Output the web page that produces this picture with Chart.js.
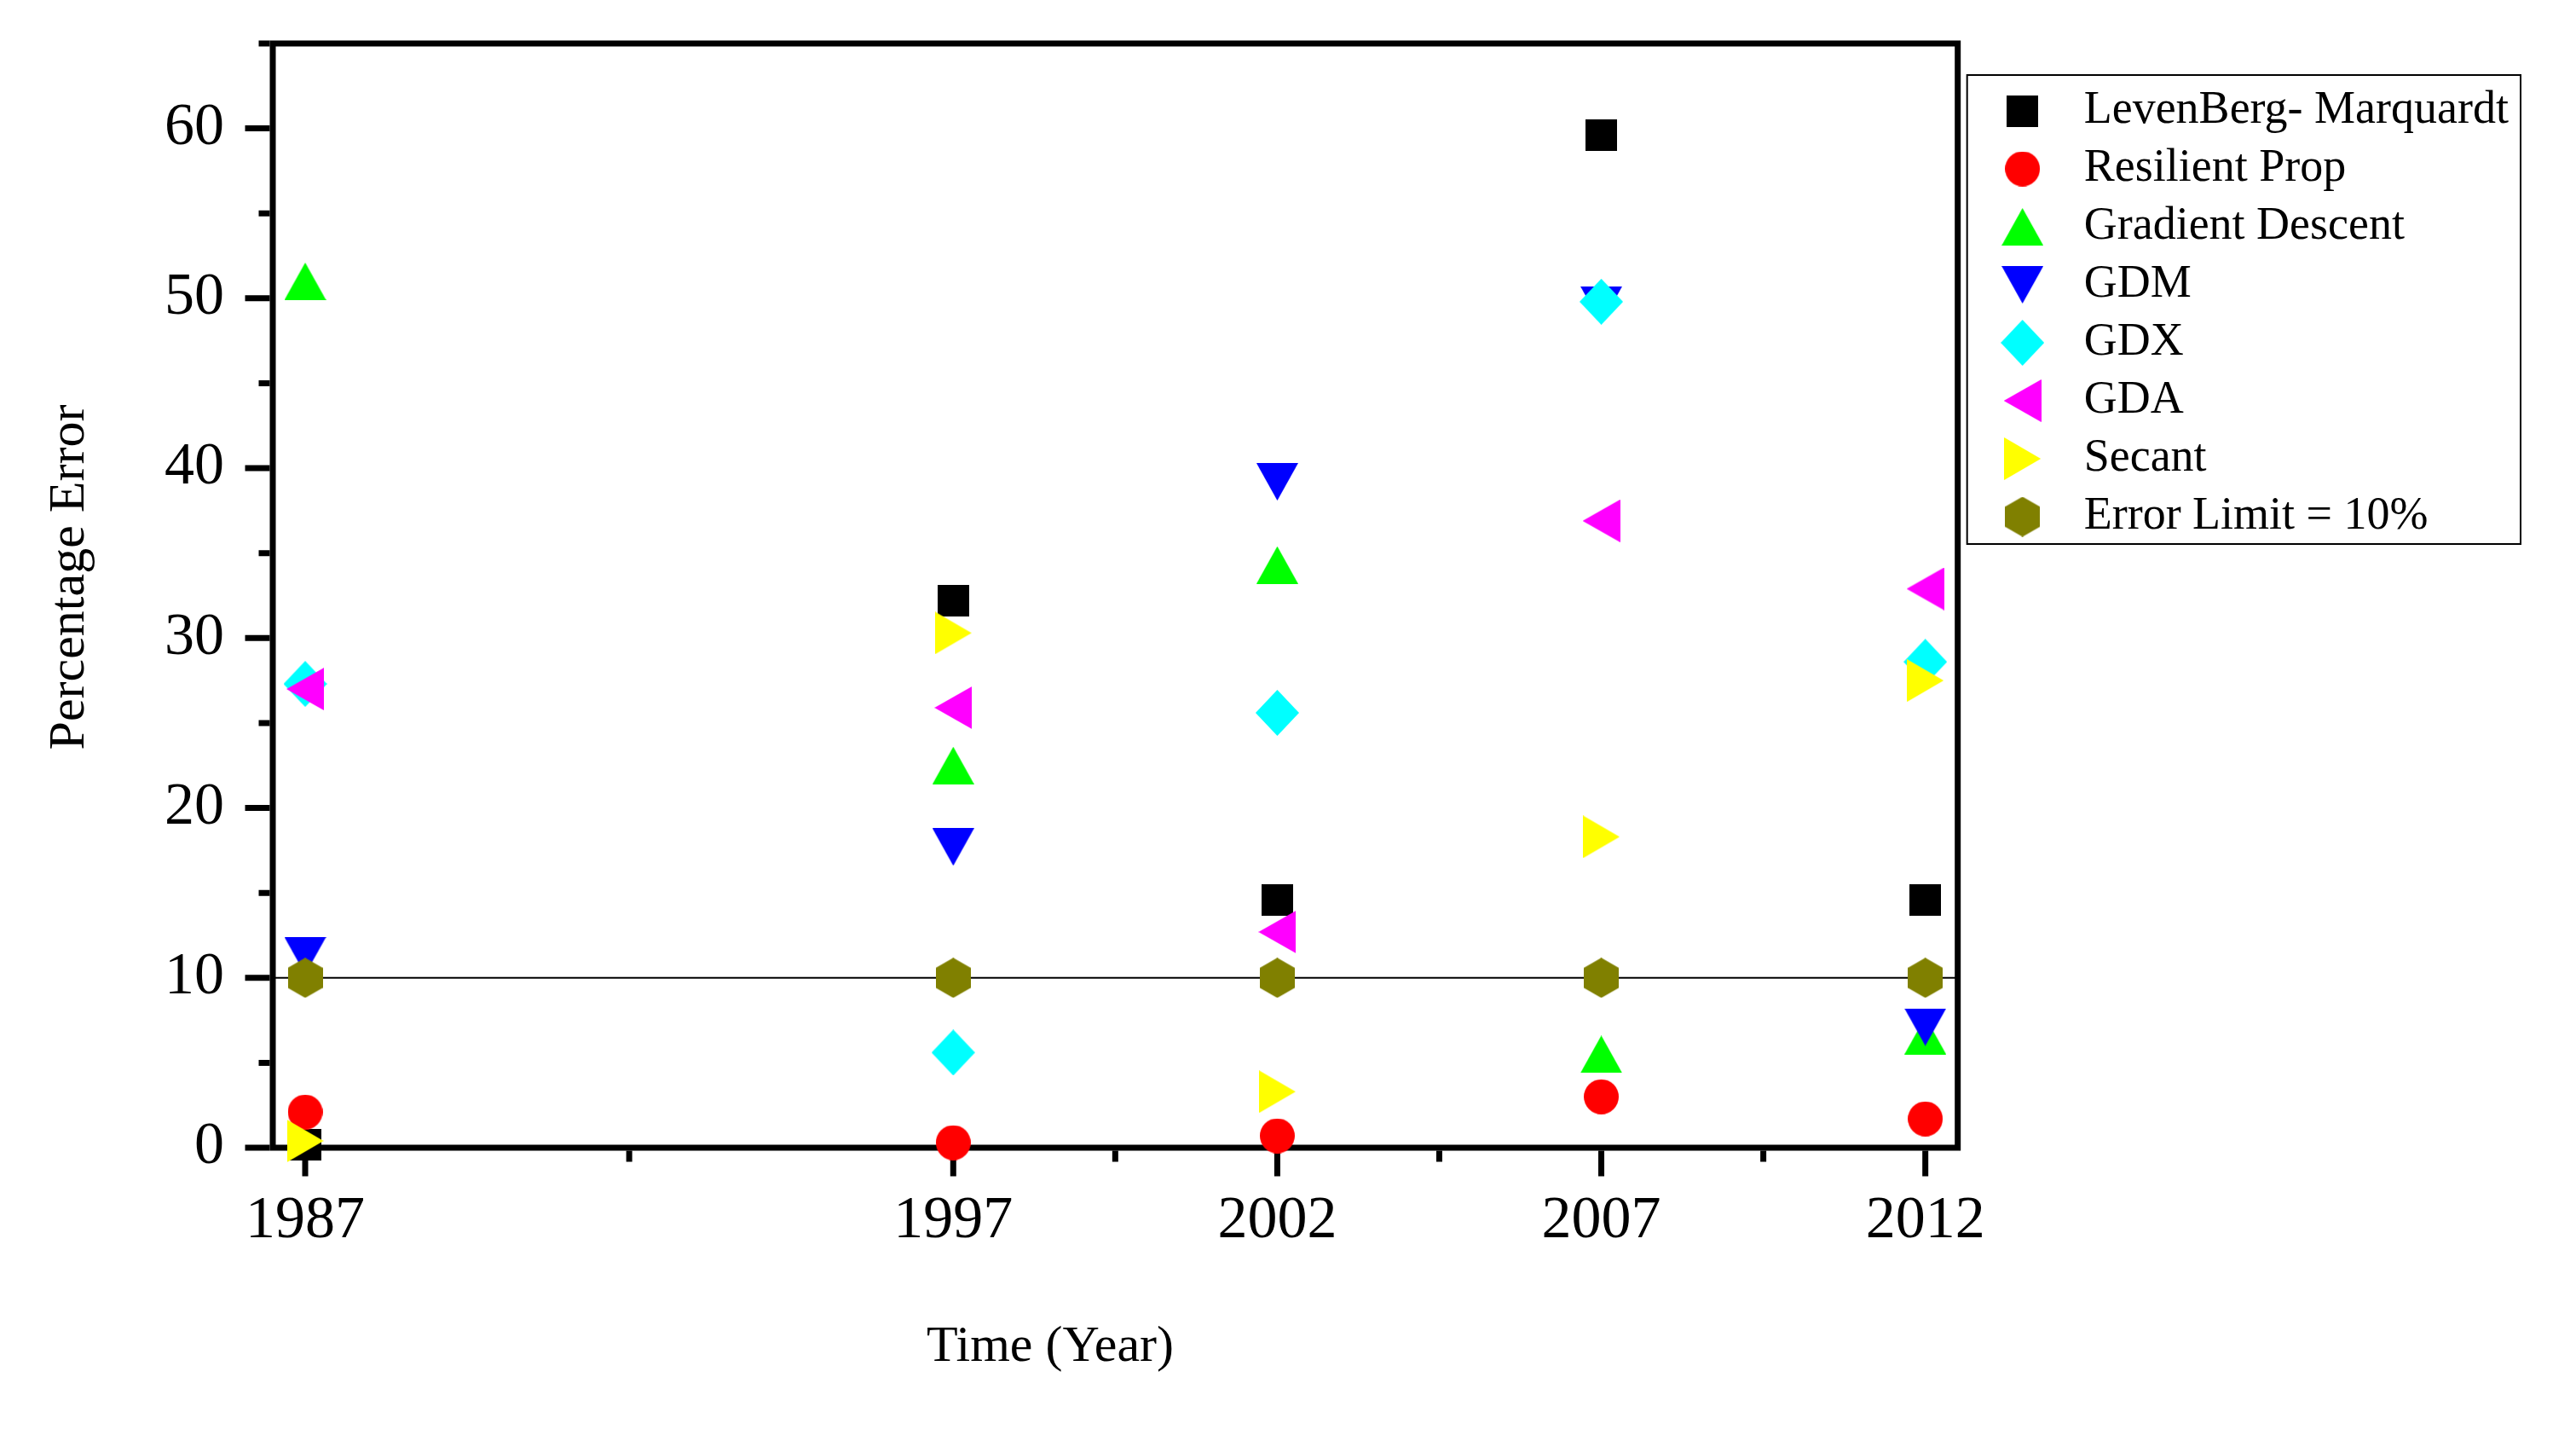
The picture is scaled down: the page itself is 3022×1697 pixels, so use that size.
<!DOCTYPE html>
<html>
    <head>
        <title>Percentage Error</title>
        <meta charset="UTF-8">
        <script src="https://cdn.jsdelivr.net/npm/chart.js@4.4.1/dist/chart.umd.min.js"></script>
        <style>
            body { margin: 0; background: #fff; }
            #box { width: 3022px; height: 1697px; }
        </style>
    </head>
    <body>
        <div id="box"><canvas id="myChart"></canvas></div>
        <script>
            // data
            var years = [1987, 1997, 2002, 2007, 2012];
            var xTicks = [1987, 1992, 1997, 1999.5, 2002, 2004.5, 2007, 2009.5, 2012];
            var names = ['LevenBerg- Marquardt', 'Resilient Prop', 'Gradient Descent', 'GDM', 'GDX', 'GDA', 'Secant', 'Error Limit = 10%'];
            var levenberg = [0.2, 32.2, 14.6, 59.6, 14.6];
            var resilient = [2.1, 0.3, 0.7, 3.0, 1.7];
            var gradient = [51.0, 22.5, 34.3, 5.5, 6.6];
            var gdm = [11.3, 17.7, 39.2, 49.6, 7.1];
            var gdx = [27.3, 5.6, 25.6, 49.8, 28.6];
            var gda = [27.0, 25.9, 12.7, 36.9, 32.9];
            var secant = [0.4, 30.3, 3.3, 18.3, 27.5];
            var errorLimit = [10, 10, 10, 10, 10];
            var limitValue = 10;

            var series = [levenberg, resilient, gradient, gdm, gdx, gda, secant, errorLimit];

            // Origin-like marker shapes as small canvases (w x h in px)
            function marker(shape, color, w, h) {
                var c = document.createElement('canvas');
                c.width = w;
                c.height = h;
                var g = c.getContext('2d');
                g.fillStyle = color;
                g.beginPath();
                if (shape === 'square') {
                    g.rect(0, 0, w, h);
                } else if (shape === 'circle') {
                    g.ellipse(w / 2, h / 2, w / 2, h / 2, 0, 0, Math.PI * 2);
                } else {
                    var pts = {
                        up: [[w / 2, 0], [w, h], [0, h]],
                        down: [[0, 0], [w, 0], [w / 2, h]],
                        left: [[0, h / 2], [w, 0], [w, h]],
                        right: [[0, 0], [w, h / 2], [0, h]],
                        diamond: [[w / 2, 0], [w, h / 2], [w / 2, h], [0, h / 2]],
                        hexagon: [[w / 2, 0], [w, h / 4], [w, 3 * h / 4], [w / 2, h], [0, 3 * h / 4], [0, h / 4]]
                    }[shape];
                    pts.forEach(function (p, i) {
                        if (i) g.lineTo(p[0], p[1]); else g.moveTo(p[0], p[1]);
                    });
                    g.closePath();
                }
                g.fill();
                return c;
            }

            var markers = [
                marker('square', '#000000', 37, 37),
                marker('circle', '#ff0000', 41, 41),
                marker('up', '#00ff00', 49, 44),
                marker('down', '#0000ff', 49, 44),
                marker('diamond', '#00ffff', 51, 54),
                marker('left', '#ff00ff', 44, 50),
                marker('right', '#ffff00', 43, 50),
                marker('hexagon', '#808000', 41, 47)
            ];

            var serif = 'Liberation Serif';

            var framePlugin = {
                id: 'frame',
                afterLayout: function (chart) {
                    // legend box sits a bit right of and below the plot's top-right corner
                    var lg = chart.legend;
                    lg.left += 17; lg.right += 17;
                    lg.top += 38; lg.bottom += 38;
                },
                beforeDatasetsDraw: function (chart) {
                    var ctx = chart.ctx, a = chart.chartArea;
                    var xs = chart.scales.x, ys = chart.scales.y;
                    ctx.save();
                    ctx.strokeStyle = '#000';
                    // error limit line
                    var yl = ys.getPixelForValue(limitValue);
                    ctx.lineWidth = 2;
                    ctx.beginPath();
                    ctx.moveTo(a.left, yl);
                    ctx.lineTo(a.right, yl);
                    ctx.stroke();
                    // frame
                    ctx.lineWidth = 7;
                    ctx.strokeRect(a.left, a.top, a.right - a.left, a.bottom - a.top);
                    // outward ticks
                    ctx.beginPath();
                    ys.ticks.forEach(function (t) {
                        var y = ys.getPixelForValue(t.value);
                        var len = t.value % 10 === 0 ? 29 : 13;
                        ctx.moveTo(a.left - 3.5, y);
                        ctx.lineTo(a.left - 3.5 - len, y);
                    });
                    xs.ticks.forEach(function (t) {
                        var x = xs.getPixelForValue(t.value);
                        var len = years.indexOf(t.value) >= 0 ? 30 : 13;
                        ctx.moveTo(x, a.bottom + 3.5);
                        ctx.lineTo(x, a.bottom + 3.5 + len);
                    });
                    ctx.stroke();
                    ctx.restore();
                },
                afterDraw: function (chart) {
                    var ctx = chart.ctx, lg = chart.legend;
                    ctx.save();
                    // legend border
                    ctx.lineWidth = 2;
                    ctx.strokeStyle = '#000';
                    ctx.strokeRect(lg.left - 6, lg.top - 1, lg.width + 10, lg.legendItems.length * 68 + 6);
                    // axis titles
                    ctx.fillStyle = '#000';
                    ctx.font = '60px "' + serif + '"';
                    ctx.textAlign = 'center';
                    ctx.textBaseline = 'middle';
                    ctx.fillText('Time (Year)', 1232, 1580);
                    ctx.translate(82, 677);
                    ctx.rotate(-Math.PI / 2);
                    ctx.fillText('Percentage Error', 0, 0);
                    ctx.restore();
                }
            };

            var ctx = document.getElementById('myChart').getContext('2d');
            var chart = new Chart(ctx, {
                type: 'scatter',
                data: {
                    datasets: names.map(function (name, i) {
                        return {
                            label: name,
                            data: years.map(function (yr, j) { return {x: yr, y: series[i][j]}; }),
                            pointStyle: markers[i],
                            pointRadius: 20,
                            pointHoverRadius: 20,
                            backgroundColor: '#000',
                            borderColor: '#000',
                            clip: false,
                            order: names.length - i
                        };
                    })
                },
                options: {
                    responsive: true,
                    maintainAspectRatio: false,
                    animation: false,
                    events: [],
                    layout: {
                        autoPadding: false,
                        padding: {left: 193, top: 51, right: 86, bottom: 222}
                    },
                    scales: {
                        x: {
                            type: 'linear',
                            min: 1986.5,
                            max: 2012.5,
                            afterBuildTicks: function (scale) {
                                scale.ticks = xTicks.map(function (v) { return {value: v}; });
                            },
                            grid: {drawOnChartArea: false, drawTicks: true, tickLength: 45, tickColor: 'rgba(0,0,0,0)'},
                            border: {display: false},
                            ticks: {
                                padding: 0,
                                color: '#000',
                                maxRotation: 0,
                                autoSkip: false,
                                font: {family: serif, size: 70},
                                callback: function (v) { return years.indexOf(v) >= 0 ? String(v) : ''; }
                            }
                        },
                        y: {
                            min: 0,
                            max: 65,
                            grid: {drawOnChartArea: false, drawTicks: true, tickLength: 57, tickColor: 'rgba(0,0,0,0)'},
                            border: {display: false},
                            ticks: {
                                stepSize: 5,
                                padding: 0,
                                color: '#000',
                                font: {family: serif, size: 70},
                                callback: function (v) { return v % 10 === 0 ? String(v) : ''; }
                            }
                        }
                    },
                    plugins: {
                        tooltip: {enabled: false},
                        legend: {
                            position: 'right',
                            align: 'start',
                            labels: {
                                usePointStyle: true,
                                pointStyleWidth: 90,
                                padding: 14,
                                color: '#000',
                                font: {family: serif, size: 54},
                                sort: function (a, b) { return a.datasetIndex - b.datasetIndex; }
                            }
                        }
                    }
                },
                plugins: [framePlugin]
            });
        </script>
    </body>
</html>
